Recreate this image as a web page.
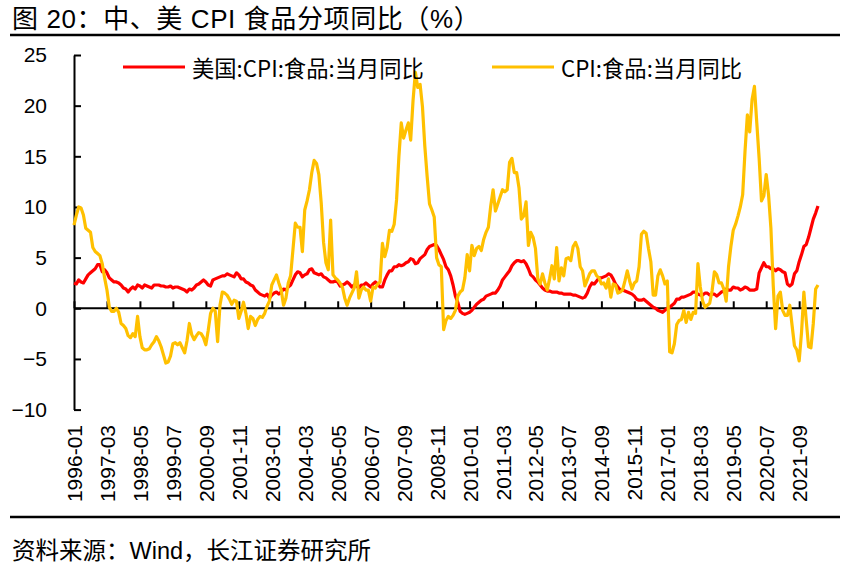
<!DOCTYPE html>
<html>
<head>
<meta charset="utf-8">
<script src="https://cdn.jsdelivr.net/npm/d3@7"></script>
<style>
  body { margin: 0; background: #fff; }
  svg { display: block; }
  .tick text { font-family: "Liberation Sans", Arial, sans-serif; font-size: 21px; fill: #000; }
</style>
</head>
<body>
<div id="chart"></div>
<script>
// Data: monthly yoy, 1996-01 .. 2022-05
var usFood = [
  2.5, 2.4, 2.8, 2.6, 2.5, 2.9, 3.3, 3.5, 3.7, 3.9, 4.3, 4.3,   // 1996
  3.6, 3.8, 3.5, 3.0, 2.8, 2.6, 2.6, 2.5, 2.3, 2.0, 1.9, 1.6,   // 1997
  1.9, 2.1, 1.9, 2.3, 2.2, 2.0, 2.3, 2.2, 2.1, 2.0, 2.3, 2.3,   // 1998
  2.3, 2.2, 2.2, 2.1, 2.1, 2.2, 2.0, 2.1, 2.1, 2.0, 1.9, 1.8,   // 1999
  1.6, 1.9, 1.8, 2.0, 2.3, 2.4, 2.6, 2.8, 2.6, 2.3, 2.2, 2.8,   // 2000
  2.9, 3.0, 3.1, 3.2, 3.2, 3.4, 3.3, 3.2, 3.1, 3.5, 3.3, 2.9,   // 2001
  2.9, 2.6, 2.5, 2.3, 2.2, 1.8, 1.6, 1.4, 1.3, 1.2, 1.4, 1.0,   // 2002
  1.3, 1.5, 1.6, 1.4, 1.6, 1.9, 1.8, 2.1, 2.3, 2.8, 3.3, 3.6,   // 2003
  3.5, 3.1, 3.3, 3.4, 3.8, 3.9, 3.5, 3.4, 3.3, 3.4, 3.1, 3.0,   // 2004
  2.8, 2.6, 2.6, 2.7, 2.6, 2.2, 2.3, 2.4, 2.6, 2.4, 2.1, 2.3,   // 2005
  2.2, 2.0, 2.3, 2.3, 2.5, 2.3, 2.1, 2.4, 2.6, 2.4, 2.1, 2.1,   // 2006
  2.8, 3.3, 3.7, 3.7, 4.1, 4.1, 4.3, 4.2, 4.3, 4.5, 4.6, 4.9,   // 2007
  4.8, 4.4, 4.5, 4.9, 5.1, 5.3, 5.8, 6.1, 6.2, 6.3, 6.2, 5.8,   // 2008
  5.3, 4.8, 4.1, 3.8, 3.2, 2.3, 1.2, 0.6, -0.3, -0.5, -0.6, -0.5, // 2009
  -0.4, -0.2, 0.1, 0.4, 0.6, 0.8, 0.9, 1.2, 1.3, 1.4, 1.5, 1.5, // 2010
  1.8, 2.2, 2.8, 3.1, 3.4, 3.7, 4.2, 4.5, 4.7, 4.7, 4.6, 4.7,   // 2011
  4.4, 3.9, 3.3, 3.1, 2.8, 2.6, 2.3, 2.0, 1.8, 1.7, 1.7, 1.6,   // 2012
  1.6, 1.6, 1.5, 1.5, 1.4, 1.4, 1.4, 1.4, 1.3, 1.3, 1.2, 1.1,   // 2013
  1.0, 1.1, 1.5, 2.1, 2.5, 2.4, 2.7, 3.0, 3.0, 3.1, 3.2, 3.4,   // 2014
  3.3, 2.9, 2.4, 2.1, 1.8, 1.8, 1.7, 1.6, 1.5, 1.4, 1.2, 0.9,   // 2015
  0.8, 0.8, 0.9, 0.7, 0.5, 0.3, 0.1, 0.0, -0.2, -0.3, -0.4, -0.2, // 2016
  0.0, 0.1, 0.3, 0.5, 0.9, 0.9, 1.1, 1.1, 1.2, 1.3, 1.4, 1.6,   // 2017
  1.6, 1.4, 1.3, 1.3, 1.5, 1.5, 1.3, 1.4, 1.4, 1.2, 1.4, 1.6,   // 2018
  1.7, 1.9, 1.8, 1.8, 2.1, 2.0, 2.0, 1.8, 1.9, 2.1, 2.0, 1.8,   // 2019
  1.8, 1.8, 1.9, 3.5, 4.0, 4.5, 4.1, 4.1, 3.9, 3.9, 3.7, 3.9,   // 2020
  3.8, 3.6, 3.5, 2.4, 2.2, 2.4, 3.4, 3.7, 4.6, 5.3, 6.1, 6.3,   // 2021
  7.0, 7.9, 8.8, 9.4, 10.1                                      // 2022
];

var cnFood = [
  8.2, 9.2, 10.0, 9.9, 9.2, 7.9, 7.7, 7.5, 6.0, 5.6, 5.4, 5.2,  // 1996
  4.4, 3.0, 1.8, 0.1, -0.3, -0.3, 0.0, -0.4, -1.5, -1.7, -2.0, -2.7, // 1997
  -2.9, -2.5, -2.8, -0.8, -2.8, -3.9, -4.1, -4.1, -4.0, -3.6, -3.3, -2.8, // 1998
  -3.2, -3.8, -4.6, -5.4, -5.3, -4.7, -3.5, -3.4, -3.6, -3.4, -3.9, -4.4, // 1999
  -3.2, -1.5, -2.6, -3.1, -2.7, -2.4, -2.5, -2.9, -3.6, -2.2, -0.5, 0.0,  // 2000
  -0.3, -3.3, 0.3, 1.6, 1.5, 1.3, 0.9, 0.4, 0.8, 0.7, -1.0, -0.3, // 2001
  0.6, -0.5, -2.0, -0.8, -1.0, -1.7, -1.1, -0.8, -0.9, -0.5, 0.2, 0.7, // 2002
  2.3, 2.8, 3.3, 2.5, 1.8, 0.3, 1.0, 2.5, 3.2, 5.8, 8.4, 8.0,   // 2003
  8.0, 5.6, 9.7, 10.6, 11.7, 13.4, 14.6, 14.3, 13.2, 10.4, 6.5, 4.5, // 2004
  3.8, 8.7, 3.3, 3.0, 2.8, 2.5, 2.1, 1.0, 0.3, 1.0, 1.5, 2.0,   // 2005
  3.6, 1.0, 1.8, 2.1, 1.8, 1.8, 0.7, 2.1, 2.0, 2.4, 2.6, 6.4,   // 2006
  5.1, 6.0, 7.7, 7.6, 8.3, 10.7, 15.0, 18.3, 16.8, 17.6, 18.3, 16.6, // 2007
  20.5, 23.3, 21.8, 22.1, 19.9, 16.0, 13.0, 10.3, 9.7, 9.0, 5.0, 4.3, // 2008
  4.1, -2.1, -1.2, -0.8, -1.0, -0.7, -0.2, 1.2, 1.6, 1.8, 3.0, 5.3, // 2009
  3.7, 6.2, 5.2, 5.9, 6.1, 5.7, 6.8, 7.5, 8.0, 10.1, 11.7, 9.6, // 2010
  10.3, 11.0, 11.7, 11.5, 11.7, 14.4, 14.8, 13.4, 13.4, 11.9, 8.8, 9.1, // 2011
  10.5, 6.2, 7.5, 7.0, 5.9, 2.9, 2.4, 3.4, 2.5, 1.8, 2.9, 4.2,  // 2012
  2.9, 6.0, 2.7, 4.0, 3.2, 4.9, 5.0, 4.7, 6.1, 6.5, 5.9, 4.1,   // 2013
  3.7, 2.2, 2.8, 3.4, 3.7, 3.7, 3.2, 3.0, 2.4, 2.5, 2.0, 2.9,   // 2014
  1.1, 2.4, 2.3, 1.5, 1.6, 1.8, 2.7, 3.7, 2.7, 1.9, 2.5, 2.7,   // 2015
  4.1, 7.3, 7.6, 7.4, 5.9, 4.6, 1.3, 1.3, 3.2, 3.8, 3.2, 2.4,   // 2016
  2.7, -4.3, -4.4, -3.5, -1.6, -1.2, -1.1, -0.2, -1.4, -0.4, -1.1, -0.4, // 2017
  -0.5, 4.4, 2.1, 0.7, 0.1, 0.3, 0.5, 1.7, 3.6, 3.3, 2.5, 2.5,  // 2018
  1.9, 0.7, 4.1, 6.1, 7.7, 8.3, 9.1, 10.0, 11.2, 15.5, 19.1, 17.4, // 2019
  20.6, 21.9, 18.3, 14.8, 10.6, 11.1, 13.2, 11.2, 7.9, 2.2, -2.0, 1.2, // 2020
  1.6, -0.2, -0.7, -0.7, 0.3, -1.7, -3.7, -4.1, -5.2, -2.4, 1.6, -1.2, // 2021
  -3.8, -3.9, -1.5, 1.9, 2.3                                    // 2022
];

var seriesNames = ['美国:CPI:食品:当月同比', 'CPI:食品:当月同比'];
var seriesColors = ['#FF0000', '#FFC000'];

var tickLabels = ['1996-01', '1997-03', '1998-05', '1999-07', '2000-09', '2001-11',
  '2003-01', '2004-03', '2005-05', '2006-07', '2007-09', '2008-11', '2010-01',
  '2011-03', '2012-05', '2013-07', '2014-09', '2015-11', '2017-01', '2018-03',
  '2019-05', '2020-07', '2021-09'];

var yTicks = [-10, -5, 0, 5, 10, 15, 20, 25];

// month categories
var fmt = d3.timeFormat('%Y-%m');
var months = d3.timeMonth
  .range(new Date(1996, 0, 1), new Date(2022, 5, 1))
  .map(d => fmt(d));

// Starting parameters
var svgWidth = 847;
var svgHeight = 569;
var plot = { left: 74, right: 818, top: 55, bottom: 409.6 };

var svg = d3
  .select('#chart')
  .append('svg')
  .attr('width', svgWidth)
  .attr('height', svgHeight);

// Scales
var xScale = d3
  .scalePoint()
  .domain(months)
  .range([plot.left, plot.right]);

var yScale = d3
  .scaleLinear()
  .domain([-10, 25])
  .range([plot.bottom, plot.top]);

var y0 = yScale(0);

// Title + rules
svg.append('text')
  .attr('x', 12)
  .attr('y', 28)
  .attr('font-family', '"Liberation Sans", "Noto Sans CJK SC", sans-serif')
  .attr('font-size', '26px')
  .attr('letter-spacing', '0.6px')
  .text('图 20：中、美 CPI 食品分项同比（%）');

svg.append('line')
  .attr('x1', 10).attr('x2', 840)
  .attr('y1', 35).attr('y2', 35)
  .attr('stroke', '#000')
  .attr('stroke-width', 2.5);

svg.append('line')
  .attr('x1', 10).attr('x2', 840)
  .attr('y1', 517).attr('y2', 517)
  .attr('stroke', '#000')
  .attr('stroke-width', 2.5);

svg.append('text')
  .attr('x', 12)
  .attr('y', 559)
  .attr('font-family', '"Liberation Sans", "Noto Sans CJK SC", sans-serif')
  .attr('font-size', '23.5px')
  .text('资料来源：Wind，长江证券研究所');

// Y axis
var leftAxis = d3
  .axisLeft(yScale)
  .tickValues(yTicks)
  .tickSize(-7)
  .tickSizeOuter(0)
  .tickPadding(27);

var yAxis = svg
  .append('g')
  .attr('transform', `translate(${plot.left}, 0)`)
  .call(leftAxis);

yAxis.selectAll('path, line')
  .attr('stroke', '#000')
  .attr('stroke-width', 2);

// X axis at zero, labels pushed below the plot
var bottomAxis = d3
  .axisBottom(xScale)
  .tickValues(tickLabels)
  .tickSize(-7)
  .tickSizeOuter(0);

var xAxis = svg
  .append('g')
  .attr('transform', `translate(0, ${y0})`)
  .call(bottomAxis);

xAxis.select('.domain')
  .attr('d', `M${plot.left},0H${plot.right + 1}`);

xAxis.selectAll('path, line')
  .attr('stroke', '#000')
  .attr('stroke-width', 2);

xAxis.selectAll('text')
  .attr('y', null)
  .attr('dy', null)
  .attr('text-anchor', 'end')
  .attr('dominant-baseline', 'central')
  .attr('transform', `translate(0, ${425 - y0}) rotate(-90)`);

// Lines
var line = d3
  .line()
  .x((d, i) => xScale(months[i]))
  .y(d => yScale(d));

[usFood, cnFood].forEach(function(values, k) {
  svg.append('path')
    .datum(values)
    .attr('fill', 'none')
    .attr('stroke', seriesColors[k])
    .attr('stroke-width', 3.2)
    .attr('stroke-linejoin', 'round')
    .attr('d', line);
});

// Legend
var legendPos = [{ x: 123, tx: 192 }, { x: 492, tx: 561 }];
var legendY = 67;

seriesNames.forEach(function(name, k) {
  svg.append('line')
    .attr('x1', legendPos[k].x)
    .attr('x2', legendPos[k].x + 62)
    .attr('y1', legendY)
    .attr('y2', legendY)
    .attr('stroke', seriesColors[k])
    .attr('stroke-width', 3.2);
  svg.append('text')
    .attr('x', legendPos[k].tx)
    .attr('y', legendY)
    .attr('dominant-baseline', 'central')
    .attr('font-family', '"Noto Sans CJK SC", sans-serif')
    .attr('font-size', '22.3px')
    .text(name);
});
</script>
</body>
</html>
